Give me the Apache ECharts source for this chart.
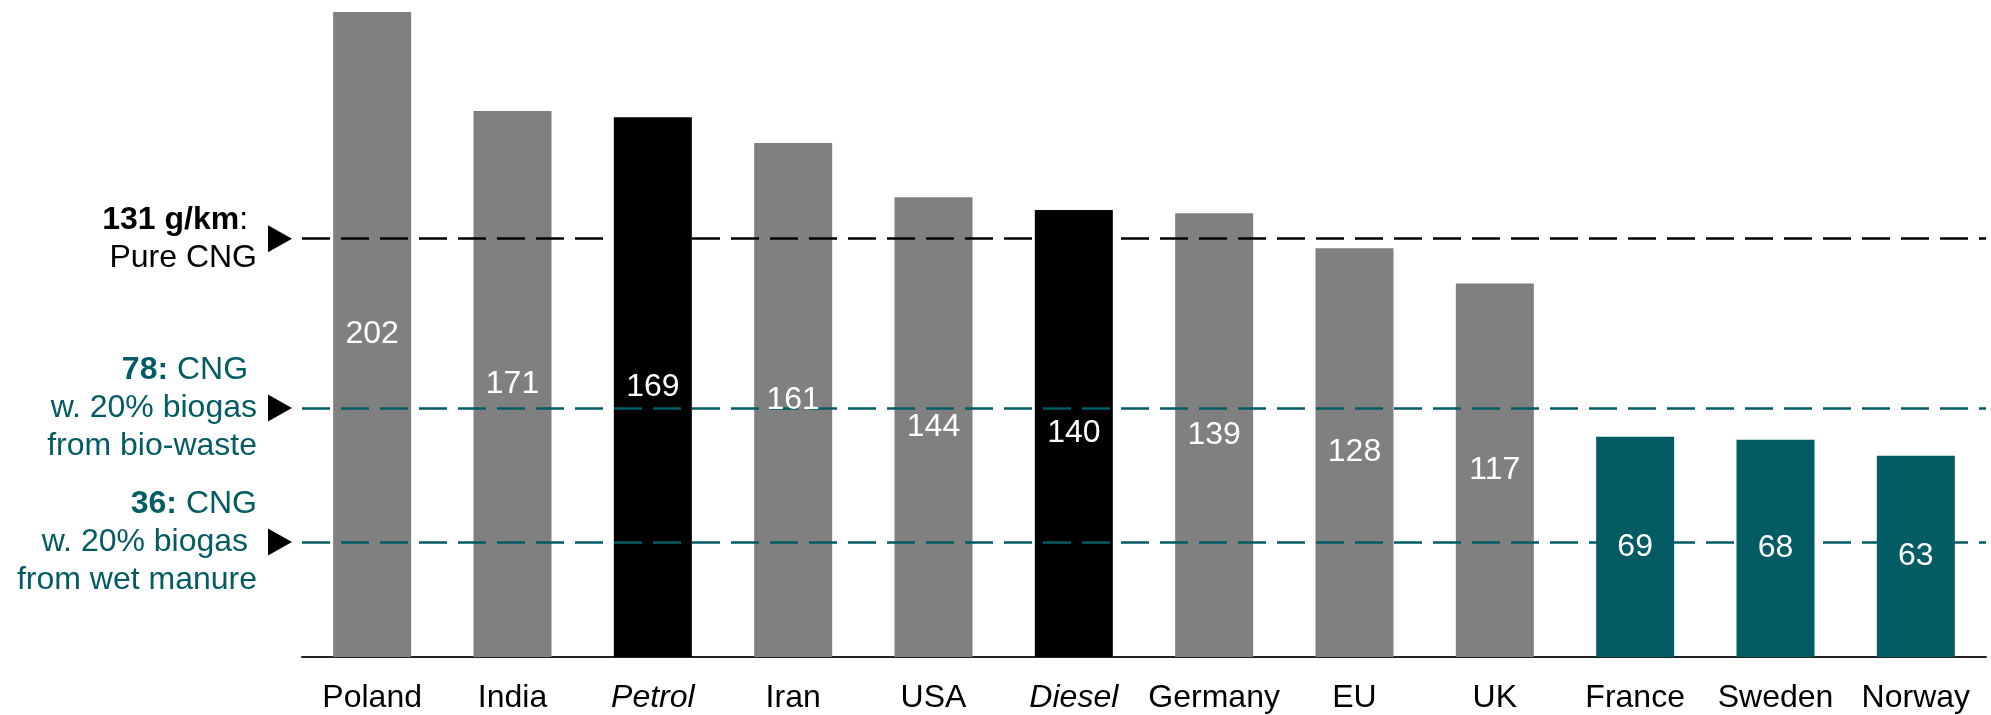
<!DOCTYPE html>
<html>
<head>
<meta charset="utf-8">
<script src="https://cdn.jsdelivr.net/npm/echarts@6/dist/echarts.min.js"></script>
<style>
  html, body { margin: 0; padding: 0; background: #fff; }
  #chart { width: 1991px; height: 715px; }
</style>
</head>
<body>
<div id="chart"></div>
<script>
// CO2 emissions per km by country / fuel (g/km)
const categories = ['Poland', 'India', 'Petrol', 'Iran', 'USA', 'Diesel', 'Germany', 'EU', 'UK', 'France', 'Sweden', 'Norway'];
const emissions = [202, 171, 169, 161, 144, 140, 139, 128, 117, 69, 68, 63];
// group of each bar: country grid mix, conventional fuel, or low-carbon grid
const barGroups = ['country', 'country', 'fuel', 'country', 'country', 'fuel', 'country', 'country', 'country', 'clean', 'clean', 'clean'];

// CNG reference levels
const refValues = [131, 78, 36];
const refKinds = ['pure', 'bio', 'bio'];
const refLabels = [
  '{kb|131 g/km}{k|: }\n{k|Pure CNG}',
  '{tb|78:}{t| CNG }\n{t|w. 20% biogas}\n{t|from bio-waste}',
  '{tb|36:}{t| CNG}\n{t|w. 20% biogas }\n{t|from wet manure}'
];

const FONT = 'Liberation Sans, Arial, sans-serif';
const GREY = '#808080';
const BLACK = '#000000';
const TEAL = '#035B64';
const groupColor = { country: GREY, fuel: BLACK, clean: TEAL };
const FS = 32;
const LH = 38;

const chart = echarts.init(document.getElementById('chart'), null, { renderer: 'canvas' });

const labelRich = {
  kb: { fontFamily: FONT, fontSize: FS, fontWeight: 'bold', color: BLACK, lineHeight: LH },
  k: { fontFamily: FONT, fontSize: FS, color: BLACK, lineHeight: LH },
  tb: { fontFamily: FONT, fontSize: FS, fontWeight: 'bold', color: TEAL, lineHeight: LH },
  t: { fontFamily: FONT, fontSize: FS, color: TEAL, lineHeight: LH }
};

const option = {
  animation: false,
  backgroundColor: '#ffffff',
  grid: { left: 302, right: 5, top: 12, bottom: 58, containLabel: false },
  xAxis: {
    type: 'category',
    data: categories,
    axisLine: { show: true, lineStyle: { color: '#222', width: 2 } },
    axisTick: { show: false },
    axisLabel: {
      margin: 25,
      fontFamily: FONT,
      fontSize: FS,
      color: BLACK,
      interval: 0,
      formatter: function (v, i) {
        return barGroups[i] === 'fuel' ? '{i|' + v + '}' : '{n|' + v + '}';
      },
      rich: {
        i: { fontFamily: FONT, fontSize: FS, fontStyle: 'italic', color: BLACK },
        n: { fontFamily: FONT, fontSize: FS, color: BLACK }
      }
    }
  },
  yAxis: {
    type: 'value',
    min: 0,
    max: 'dataMax',
    show: false,
    splitLine: { show: false }
  },
  series: [{
    // coloured bars with the reference lines and their markers
    type: 'bar',
    barWidth: 78,
    z: 2,
    data: emissions.map(function (v, i) {
      return { value: v, itemStyle: { color: groupColor[barGroups[i]] } };
    }),
    markLine: {
      silent: true,
      symbol: ['none', 'none'],
      label: { show: false },
      z: 5,
      data: refValues.map(function (v, i) {
        return {
          yAxis: v,
          lineStyle: {
            color: refKinds[i] === 'pure' ? BLACK : TEAL,
            width: 2.6,
            type: [28, 11]
          }
        };
      })
    },
    markPoint: {
      silent: true,
      symbol: 'triangle',
      symbolSize: [27, 24],
      symbolRotate: -90,
      itemStyle: { color: BLACK },
      data: refValues.map(function (v, i) {
        return {
          yAxis: v,
          x: 280,
          label: {
            show: true,
            position: 'left',
            distance: 11,
            align: 'right',
            formatter: refLabels[i],
            rich: labelRich
          }
        };
      })
    }
  }, {
    // value labels drawn on top of the dashed lines
    type: 'bar',
    barWidth: 78,
    barGap: '-100%',
    z: 10,
    silent: true,
    itemStyle: { color: 'rgba(0,0,0,0)' },
    data: emissions,
    label: {
      show: true,
      position: 'inside',
      color: '#ffffff',
      fontFamily: FONT,
      fontSize: FS
    }
  }]
};

chart.setOption(option);
</script>
</body>
</html>
